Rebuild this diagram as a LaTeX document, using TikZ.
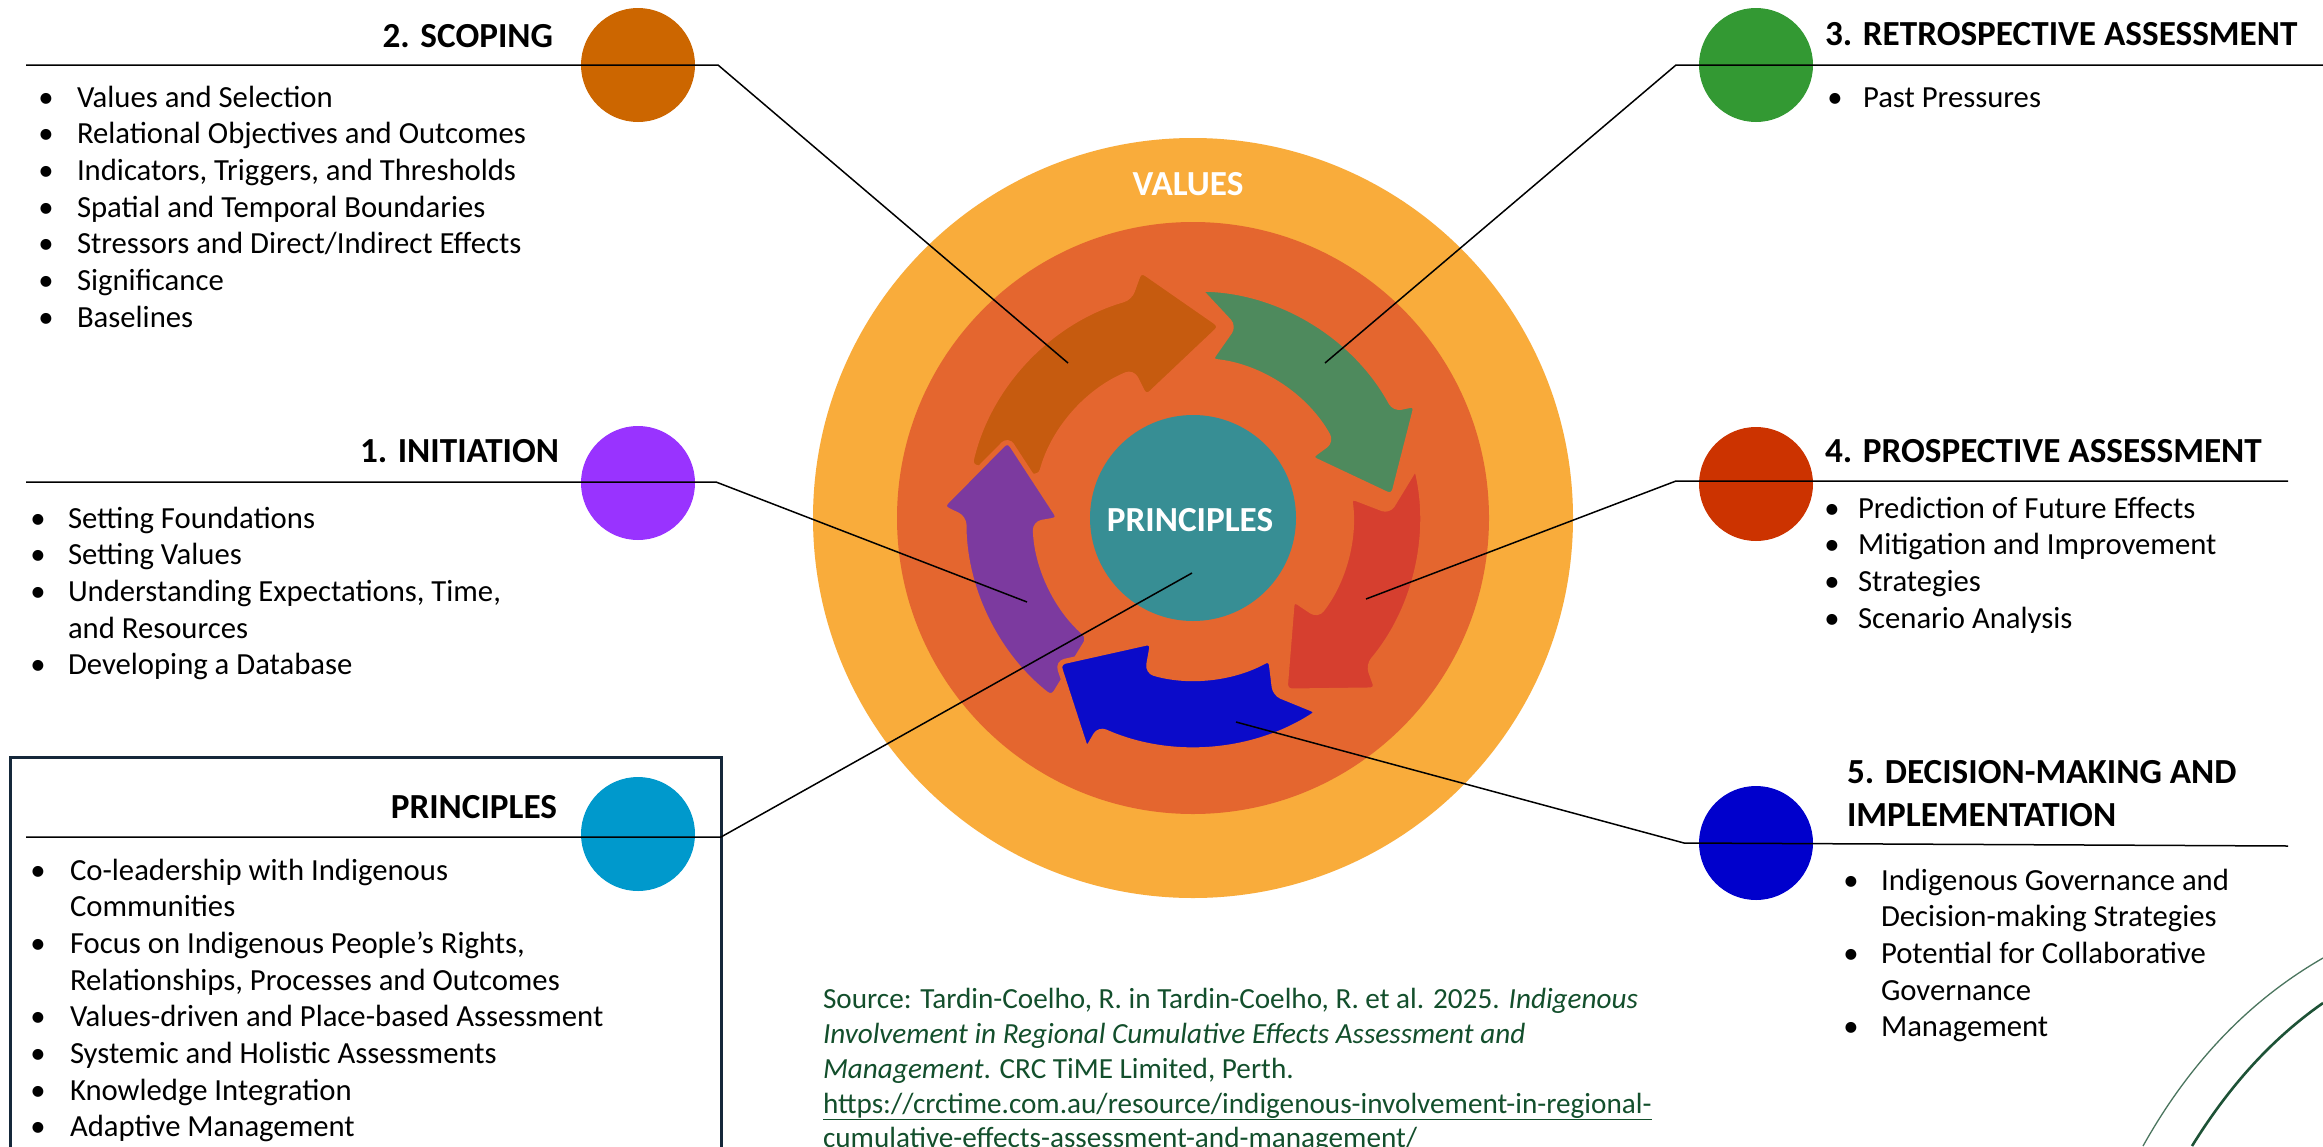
\documentclass[tikz,border=0pt]{standalone}
\usepackage{fontspec}
\setmainfont{Carlito}
\definecolor{valyel}{HTML}{F9AC3B}
\definecolor{ringor}{HTML}{E4662F}
\definecolor{cteal}{HTML}{378E94}
\definecolor{arOr}{HTML}{C65B0F}
\definecolor{arGr}{HTML}{4E8A5D}
\definecolor{arRd}{HTML}{D63F2F}
\definecolor{arPu}{HTML}{7C3A9F}
\definecolor{arBl}{HTML}{0B0BC9}
\definecolor{dScop}{HTML}{CC6600}
\definecolor{dInit}{HTML}{9933FF}
\definecolor{dPrin}{HTML}{0099CC}
\definecolor{dRetro}{HTML}{339933}
\definecolor{dPros}{HTML}{CC3300}
\definecolor{dDec}{HTML}{0000CC}
\definecolor{srcgreen}{HTML}{134F2C}
\definecolor{boxnavy}{HTML}{15283A}
\definecolor{arcgreen}{HTML}{1D5236}
\newcommand\bodyf{\fontsize{30.7}{36}\selectfont}
\newcommand\headf{\fontsize{35.2}{42}\selectfont\bfseries}
\newcommand\srcf{\fontsize{29.2}{34}\selectfont}
\tikzset{
  txt/.style={inner sep=0pt, outer sep=0pt, anchor=base west, font=\bodyf, text=black},
  bul/.style={inner sep=0pt, outer sep=0pt, anchor=base, font=\bodyf, text=black},
  hdr/.style={inner sep=0pt, outer sep=0pt, font=\headf, text=black},
  src/.style={inner sep=0pt, outer sep=0pt, anchor=base west, font=\srcf, text=srcgreen},
  dotc/.style={circle, inner sep=0pt, minimum size=114pt, draw=none},
  conn/.style={draw=black, line width=1.5pt},
  cyc/.style={draw=ringor, line width=5pt, rounded corners=7pt},
}
\newcommand\bl[5]{\node[bul] (#4b) at (#1,-#3) {•}; \node[txt] (#4) at (#2,-#3) {#5};}
\newcommand\cl[4]{\node[txt] (#3) at (#1,-#2) {#4};}
\begin{document}
\begin{tikzpicture}[x=1pt,y=1pt]
\useasboundingbox (0,0) rectangle (2323,-1146);
\fill[white] (0,0) rectangle (2323,-1146);

% ---------- central figure ----------
\node[circle, fill=valyel, minimum size=760pt, inner sep=0pt] (vdisk) at (1193,-518) {};
\node[circle, fill=ringor, minimum size=592pt, inner sep=0pt] (rdisk) at (1193,-518) {};
\node[inner sep=0pt, font=\headf, text=white] (vlab) at (1188,-184) {VALUES};

\begin{scope}[shift={(1193,-518)}]
  % orange
  \fill[arOr, cyc] (167:229) arc[start angle=167, end angle=106, radius=229]
    -- (102:254) -- (81.5:194) -- (111.5:129) -- (112.5:158)
    arc[start angle=112.5, end angle=165, radius=158] -- cycle;
  % green
  \fill[arGr, cyc] (88.5:229) arc[start angle=88.5, end angle=28.5, radius=229]
    -- (27:251) -- (6:201) -- (27.5:131) -- (29:158)
    arc[start angle=29, end angle=84, radius=158] -- (78:196) -- cycle;
  % red
  \fill[arRd, cyc] (13:229) arc[start angle=13, end angle=-40, radius=229]
    -- (-43:252) -- (-62:196) -- (-39:128) -- (-38:158)
    arc[start angle=-38, end angle=8, radius=158] -- (2:196) -- cycle;
  % purple
  \fill[arPu, cyc] (232:229) arc[start angle=232, end angle=180, radius=229]
    -- (177.5:252) -- (157:201) -- (180.5:133) -- (182:158)
    arc[start angle=182, end angle=229, radius=158] -- cycle;
  % blue
  \fill[arBl, cyc] (-57:231) arc[start angle=-57, end angle=-114, radius=231]
    -- (-114.6:256) -- (-133:198) -- (-108:130) -- (-106.5:160)
    arc[start angle=-106.5, end angle=-61, radius=160] -- (-65:194) -- cycle;
\end{scope}

\node[circle, fill=cteal, minimum size=206pt, inner sep=0pt] (pcirc) at (1193,-518) {};
\node[inner sep=0pt, font=\headf, text=white] (plab) at (1190,-520) {PRINCIPLES};

% ---------- principles box ----------
\draw[boxnavy, line width=3pt] (10,-757) rectangle (721,-1170);

% ---------- side dots ----------
\node[dotc, fill=dScop] (dsc) at (638,-65) {};
\node[dotc, fill=dInit] (din) at (638,-483) {};
\node[dotc, fill=dPrin] (dpr) at (638,-834) {};
\node[dotc, fill=dRetro] (dre) at (1756,-65) {};
\node[dotc, fill=dPros] (dps) at (1756,-484) {};
\node[dotc, fill=dDec] (dde) at (1756,-843) {};

% ---------- connectors ----------
\coordinate (scA) at (26,-65);   \coordinate (scB) at (718,-65);   \coordinate (scC) at (1068,-363);
\coordinate (inA) at (26,-482);  \coordinate (inB) at (716,-482);  \coordinate (inC) at (1027,-602);
\coordinate (prA) at (26,-837);  \coordinate (prB) at (721,-837);  \coordinate (prC) at (1192,-573);
\coordinate (reA) at (2323,-65); \coordinate (reB) at (1676,-65);  \coordinate (reC) at (1325,-363);
\coordinate (psA) at (2288,-481);\coordinate (psB) at (1676,-481); \coordinate (psC) at (1366,-599);
\coordinate (deA) at (2288,-846);\coordinate (deB) at (1684,-843); \coordinate (deC) at (1236,-722);
\draw[conn] (scA) -- (scB) -- (scC);
\draw[conn] (inA) -- (inB) -- (inC);
\draw[conn] (prA) -- (prB) -- (prC);
\draw[conn] (reA) -- (reB) -- (reC);
\draw[conn] (psA) -- (psB) -- (psC);
\draw[conn] (deA) -- (deB) -- (deC);

% ---------- headings ----------
\node[hdr, anchor=base east] (hsc) at (553,-47) {2. SCOPING};
\node[hdr, anchor=base east] (hin) at (559,-462) {1. INITIATION};
\node[hdr, anchor=base east] (hpr) at (557,-818) {PRINCIPLES};
\node[hdr, anchor=base west] (hre) at (1825,-45) {3. RETROSPECTIVE ASSESSMENT};
\node[hdr, anchor=base west] (hps) at (1825,-462) {4. PROSPECTIVE ASSESSMENT};
\node[hdr, anchor=base west] (hde1) at (1847,-783) {5. DECISION-MAKING AND};
\node[hdr, anchor=base west] (hde2) at (1847,-826) {IMPLEMENTATION};

% ---------- scoping list ----------
\bl{46}{77}{107}{sc1}{Values and Selection}
\bl{46}{77}{143.7}{sc2}{Relational Objectives and Outcomes}
\bl{46}{77}{180.4}{sc3}{Indicators, Triggers, and Thresholds}
\bl{46}{77}{217.1}{sc4}{Spatial and Temporal Boundaries}
\bl{46}{77}{253.8}{sc5}{Stressors and Direct/Indirect Effects}
\bl{46}{77}{290.5}{sc6}{Significance}
\bl{46}{77}{327.2}{sc7}{Baselines}

% ---------- initiation list ----------
\bl{38}{68}{528}{in1}{Setting Foundations}
\bl{38}{68}{564.7}{in2}{Setting Values}
\bl{38}{68}{601.4}{in3}{Understanding Expectations, Time,}
\cl{68}{638.1}{in3c}{and Resources}
\bl{38}{68}{674.8}{in4}{Developing a Database}

% ---------- principles list ----------
\bl{38}{70}{880}{pr1}{Co-leadership with Indigenous}
\cl{70}{916.7}{pr1c}{Communities}
\bl{38}{70}{953.4}{pr2}{Focus on Indigenous People’s Rights,}
\cl{70}{990.1}{pr2c}{Relationships, Processes and Outcomes}
\bl{38}{70}{1026.8}{pr3}{Values-driven and Place-based Assessment}
\bl{38}{70}{1063.5}{pr4}{Systemic and Holistic Assessments}
\bl{38}{70}{1100.2}{pr5}{Knowledge Integration}
\bl{38}{70}{1136.9}{pr6}{Adaptive Management}

% ---------- retrospective list ----------
\bl{1835}{1863}{107}{re1}{Past Pressures}

% ---------- prospective list ----------
\bl{1832}{1858}{518}{ps1}{Prediction of Future Effects}
\bl{1832}{1858}{554.7}{ps2}{Mitigation and Improvement}
\bl{1832}{1858}{591.4}{ps3}{Strategies}
\bl{1832}{1858}{628.1}{ps4}{Scenario Analysis}

% ---------- decision list ----------
\bl{1851}{1881}{890}{de1}{Indigenous Governance and}
\cl{1881}{926.7}{de1c}{Decision-making Strategies}
\bl{1851}{1881}{963.4}{de2}{Potential for Collaborative}
\cl{1881}{1000.1}{de2c}{Governance}
\bl{1851}{1881}{1036.8}{de3}{Management}

% ---------- source ----------
\node[src] (s1) at (823,-1008) {Source: Tardin-Coelho, R. in Tardin-Coelho, R. et al. 2025. \textit{Indigenous}};
\node[src] (s2) at (823,-1043) {\textit{Involvement in Regional Cumulative Effects Assessment and}};
\node[src] (s3) at (823,-1078) {\textit{Management}. CRC TiME Limited, Perth.};
\node[src] (s4) at (823,-1113) {\underline{https://crctime.com.au/resource/indigenous-involvement-in-regional-}};
\node[src] (s5) at (823,-1147) {\underline{cumulative-effects-assessment-and-management/}};

% ---------- decorative arcs ----------
\draw[arcgreen!80!white, line width=1.3pt] (2143,-1146) .. controls (2190,-1062) and (2250,-1000) .. (2323,-958);
\draw[arcgreen, line width=2.6pt] (2192,-1146) .. controls (2228,-1088) and (2270,-1040) .. (2323,-1003);
\end{tikzpicture}
\end{document}
